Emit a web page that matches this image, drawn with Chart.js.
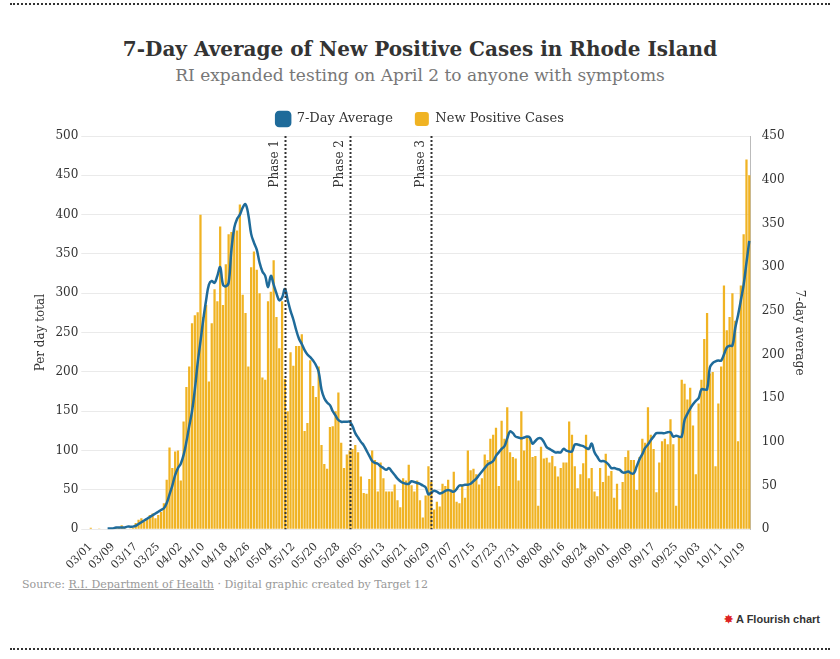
<!DOCTYPE html>
<html><head><meta charset="utf-8">
<script src="https://cdn.jsdelivr.net/npm/chart.js@4"></script>
<style>
body{margin:0;background:#fff;width:840px;height:659px;position:relative;overflow:hidden;font-family:"DejaVu Serif",serif}
.dot{position:absolute;left:10px;right:10px;border-top:2px dotted #333}
#t{position:absolute;top:37px;width:840px;text-align:center;font-size:20px;font-weight:bold;color:#333}
#s{position:absolute;top:65px;width:840px;text-align:center;font-size:17px;color:#777}
#src{position:absolute;top:578px;left:22px;font-size:11px;color:#999}
#src u{color:#999}
#fl{position:absolute;top:613px;right:20px;font-size:11px;color:#333;font-family:"Liberation Sans",sans-serif;font-weight:bold}
#wrap{position:absolute;left:0;top:90px;width:840px;height:485px}
</style></head><body>
<div class="dot" style="top:3px"></div>
<div class="dot" style="top:648px"></div>
<div id="t">7-Day Average of New Positive Cases in Rhode Island</div>
<div id="s">RI expanded testing on April 2 to anyone with symptoms</div>
<div id="wrap"><canvas id="c"></canvas></div>
<div id="src">Source: <u>R.I. Department of Health</u> · Digital graphic created by Target 12</div>
<div id="fl"><span style="color:#d22">✸</span> A Flourish chart</div>
<script>
const startDate = [2020, 3, 1];
const newCases = [
2,0,0,1,0,0,0,1,1,3,2,5,3,0,1,2,8,12,14,10,13,18,20,14,18,22,33,63,104,78,99,
100,62,137,181,207,262,272,276,400,270,285,188,262,305,290,385,285,337,375,378,382,380,413,298,275,207,333,353,330,300,
193,190,290,302,342,270,230,290,191,150,225,208,233,233,248,125,135,215,182,168,207,107,83,77,130,131,150,174,110,78,95,
100,102,107,98,67,46,45,64,100,88,48,85,65,48,48,48,57,37,28,65,62,82,56,48,62,37,15,43,80,60,
25,35,29,58,55,63,50,73,35,33,57,40,100,75,77,70,57,65,95,88,115,120,129,55,138,115,155,98,92,90,62,
150,100,117,117,92,93,30,105,90,91,85,93,80,67,78,85,85,137,120,80,52,70,84,120,65,78,48,42,78,60,96,
68,74,40,58,25,60,92,100,88,88,50,92,115,110,155,120,102,47,85,112,115,108,140,108,30,118,190,185,165,180,
132,70,160,190,242,275,198,200,80,160,207,310,253,270,300,265,112,310,375,470,450];
const avg7 = [
null,null,null,null,null,null,
1,1,1,2,2,2,2,3,3,3,
4,6,8,10,12,14,16,18,20,22,
24,30,40,50,62,70,75,85,100,118,
135,160,190,215,240,262,280,284,282,290,
300,280,278,282,320,345,355,360,368,372,
360,338,328,320,305,295,290,277,290,280,
270,262,265,275,262,250,240,228,218,212,
205,200,197,193,188,180,160,150,145,142,
135,130,125,123,123,123,123,118,110,105,
100,96,90,84,78,76,75,72,70,68,
70,66,62,58,55,53,52,52,55,54,
53,52,50,48,40,42,44,43,41,42,
44,45,44,43,46,50,50,51,51,52,
55,58,62,66,70,74,76,78,84,88,
92,95,104,112,110,106,105,104,105,106,
105,98,101,104,104,100,94,92,90,88,
88,88,92,90,89,89,97,97,96,95,
93,92,98,88,83,78,78,77,74,70,
70,69,68,65,65,66,64,64,72,80,
86,93,97,102,106,110,110,110,110,111,
111,106,107,106,106,125,132,138,143,147,
150,160,160,160,185,190,192,193,193,200,
208,210,210,230,245,262,280,305,330];
const phaseLabels = ["Phase 1","Phase 2","Phase 3"];
const phaseDates = ["05/09","06/01","06/30"];

const labels = [];
const d0 = new Date(startDate[0], startDate[1]-1, startDate[2]);
for (let i=0;i<newCases.length;i++){
  const d = new Date(d0.getTime()); d.setDate(d0.getDate()+i);
  labels.push(String(d.getMonth()+1).padStart(2,'0')+'/'+String(d.getDate()).padStart(2,'0'));
}
const serif = "'DejaVu Serif', serif";
const phasePlugin = {
  id:'phases',
  afterDatasetsDraw(chart){
    const {ctx, chartArea, scales} = chart;
    ctx.save();
    phaseDates.forEach((pd,i)=>{
      const x = Math.round(scales.x.getPixelForValue(labels.indexOf(pd)))+0.5;
      ctx.strokeStyle='#333'; ctx.lineWidth=2; ctx.setLineDash([2,2]);
      ctx.beginPath(); ctx.moveTo(x,chartArea.top); ctx.lineTo(x,chartArea.bottom); ctx.stroke();
      ctx.setLineDash([]);
      ctx.translate(x-5, chartArea.top+4); ctx.rotate(-Math.PI/2);
      ctx.fillStyle='#333'; ctx.font="12px "+serif; ctx.textAlign='right'; ctx.textBaseline='bottom';
      ctx.fillText(phaseLabels[i],0,0);
      ctx.setTransform(chart.currentDevicePixelRatio,0,0,chart.currentDevicePixelRatio,0,0);
    });
    ctx.restore();
  }
};
new Chart(document.getElementById('c'),{
  data:{labels,datasets:[
    {type:'line',label:'7-Day Average',data:avg7,yAxisID:'y1',borderColor:'#1f6b9a',backgroundColor:'#1f6b9a',borderWidth:2.5,pointRadius:0,tension:0.4,order:0},
    {type:'bar',label:'New Positive Cases',data:newCases,yAxisID:'y',backgroundColor:'#f0b323',barPercentage:0.8,categoryPercentage:1,order:1}
  ]},
  options:{responsive:true,maintainAspectRatio:false,animation:false,
    layout:{padding:{left:30,right:30,top:0,bottom:0}},
    plugins:{legend:{position:'top',labels:{font:{family:serif,size:13},color:'#333',boxWidth:14,boxHeight:14,useBorderRadius:true,borderRadius:3,padding:22}},tooltip:{enabled:false}},
    scales:{
      x:{grid:{display:false},border:{display:false},ticks:{autoSkip:false,maxRotation:45,minRotation:45,color:'#333',font:{family:serif,size:11},
        callback:(v,i)=> i%8===0?labels[i]:''}},
      y:{position:'left',min:0,max:500,ticks:{stepSize:50,color:'#333',font:{family:serif,size:12}},grid:{color:'#eaeaea'},border:{display:false},
        title:{display:true,text:'Per day total',color:'#333',font:{family:serif,size:12}}},
      y1:{position:'right',min:0,max:450,ticks:{stepSize:50,color:'#333',font:{family:serif,size:12}},grid:{display:false},border:{display:true,color:'#bbb'},
        title:{display:true,text:'7-day average',color:'#333',font:{family:serif,size:12}}}
    }
  },
  plugins:[phasePlugin]
});
</script></body></html>
